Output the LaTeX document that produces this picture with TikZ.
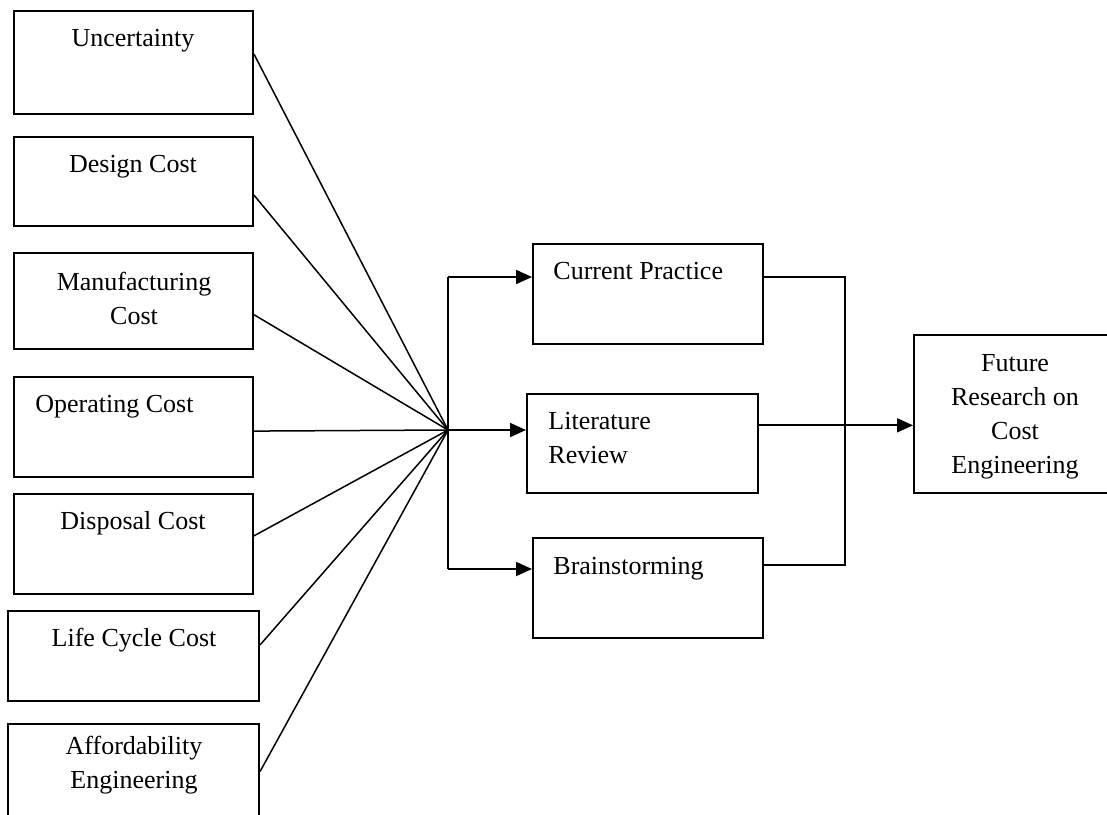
\documentclass[tikz,border=0pt]{standalone}
\usepackage{fontspec}
\setmainfont{Liberation Serif}
\usetikzlibrary{arrows.meta,calc,fit}
\begin{document}
\begin{tikzpicture}[x=0.5pt,y=-0.5pt,
  box/.style={draw, line width=1pt, inner sep=0pt},
  txt/.style={inner sep=0pt, font=\fontsize{13}{17}\selectfont, align=center, anchor=base},
  ltxt/.style={inner sep=0pt, font=\fontsize{13}{17}\selectfont, align=left, anchor=base west},
  wire/.style={line width=0.75pt},
  arr/.style={line width=0.9pt, -{Triangle[length=8pt,width=7pt]}}]
\useasboundingbox (0,0) rectangle (1107,814);
\clip (0,0) rectangle (1107,814);

% left boxes
\node[box, fit={(14,11) (253,114)}] (u) {};
\node[box, fit={(14,137) (253,226)}] (d) {};
\node[box, fit={(14,253) (253,349)}] (m) {};
\node[box, fit={(14,377) (253,477)}] (o) {};
\node[box, fit={(14,494) (253,594)}] (dis) {};
\node[box, fit={(8,611) (259,701)}] (l) {};
\node[box, fit={(8,724) (259,830)}] (a) {};

% (multi-line nodes: base anchor is the last line's baseline)
\node[txt] (ut) at (133,46) {Uncertainty};
\node[txt] (dt) at (133,172) {Design Cost};
\node[txt] (mt) at (134,324) {Manufacturing\\Cost};
\node[ltxt] (ot) at (35,412) {Operating Cost};
\node[txt] (dist) at (133,529) {Disposal Cost};
\node[txt] (lt) at (134,646) {Life Cycle Cost};
\node[txt] (at) at (134,788) {Affordability\\Engineering};

% middle boxes
\node[box, fit={(533,244) (763,344)}] (cp) {};
\node[box, fit={(527,394) (758,493)}] (lr) {};
\node[box, fit={(533,538) (763,638)}] (bs) {};
\node[ltxt] (cpt) at (553,279) {Current Practice};
\node[ltxt] (lrt) at (548,463) {Literature\\Review};
\node[ltxt] (bst) at (553,574) {Brainstorming};

% right box
\node[box, fit={(914,335) (1130,493)}] (fut) {};
\node[txt] (futt) at (1015,473) {Future\\Research on\\Cost\\Engineering};

% hub
\coordinate (hub) at (448,430);
\coordinate (top) at (448,277);
\coordinate (bot) at (448,569);
\coordinate (rt) at (845,277);
\coordinate (rb) at (845,565);

\draw[wire] ($(u.north east)!0.42!(u.south east)$) -- (hub);
\draw[wire] ($(d.north east)!0.65!(d.south east)$) -- (hub);
\draw[wire] ($(m.north east)!0.64!(m.south east)$) -- (hub);
\draw[wire] ($(o.north east)!0.54!(o.south east)$) -- (hub);
\draw[wire] ($(dis.north east)!0.42!(dis.south east)$) -- (hub);
\draw[wire] ($(l.north east)!0.38!(l.south east)$) -- (hub);
\draw[wire] ($(a.north east)!0.45!(a.south east)$) -- (hub);

\draw[line width=0.9pt] (top) -- (bot);
\draw[arr] (top) -- (top -| cp.west);
\draw[arr] (hub) -- (hub -| lr.west);
\draw[arr] (bot) -- (bot -| bs.west);

\draw[line width=0.9pt] (rt -| cp.east) -- (rt) -- (rb) -- (rb -| bs.east);
\coordinate (lrout) at ($(lr.north east)!0.32!(lr.south east)$);
\draw[arr] (lrout) -- (lrout -| fut.west);
\end{tikzpicture}
\end{document}
